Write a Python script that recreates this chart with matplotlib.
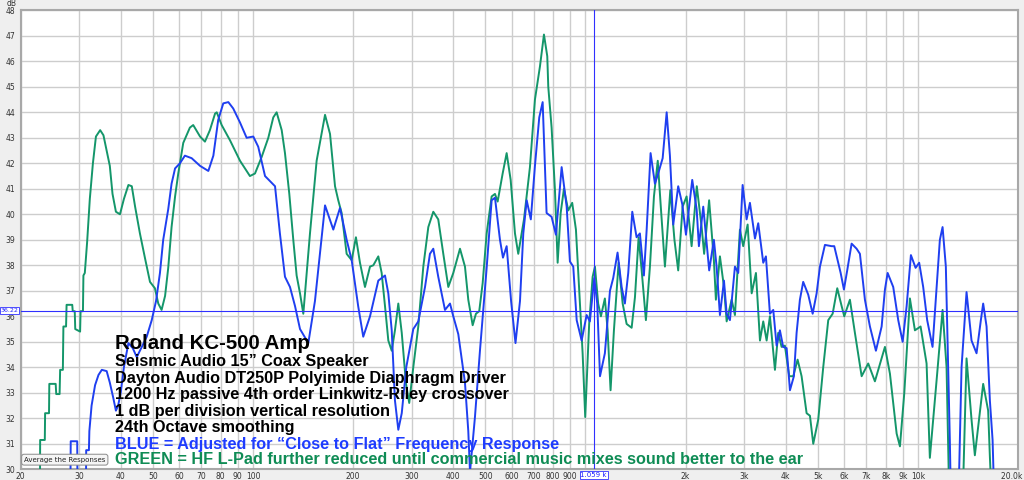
import matplotlib
matplotlib.use('Agg')
import matplotlib.pyplot as plt
from matplotlib.transforms import blended_transform_factory

# Datos (Hz, dB)
blue_hz = [20, 28.2, 28.3, 29.6, 29.7, 31.4, 31.5, 32.1, 32.2, 32.7, 33.5, 34.3, 35.1, 36.3, 37.1, 38.0,
           38.7, 39.3, 40.0, 40.9, 42.2, 43.5, 44.7, 46.3, 47.9, 49.6, 51.1, 52.5, 53.7, 55.6, 56.9, 58.3,
           60.3, 62.4, 65.4, 69.3, 73.4, 76.0, 78.6, 81.4, 84.3, 87.2, 91.4, 95.7, 100.2, 103.7, 108.7,
           112.5, 116.5, 120.5, 124.8, 129.2, 133.8, 138.5, 146.7, 153.6, 164.7, 174.4, 182.7, 191.3,
           198.1, 207.2, 214.6, 224.9, 238.2, 249.5, 255.3, 261.4, 267.3, 273.6, 280.2, 289.1, 303.5,
           314.2, 329.2, 340.6, 348.6, 360.8, 378, 391.4, 400.4, 414.5, 434.1, 444.2, 449.5, 465.2,
           481.6, 504.5, 522.2, 534.4, 553.2, 564.8, 579.4, 597.5, 616, 635.5, 650.2, 665.6, 685, 704.8,
           726.2, 743.5, 764, 791, 815, 848, 878, 898, 919, 941, 974, 1008, 1031, 1063, 1085, 1106, 1144,
           1185, 1212, 1249, 1285, 1314, 1345, 1383, 1425, 1458, 1499, 1528, 1570, 1618, 1655, 1707,
           1755, 1795, 1837, 1901, 1955, 2006, 2095, 2160, 2194, 2261, 2315, 2356, 2434, 2480, 2538,
           2610, 2659, 2720, 2816, 2881, 2970, 3053, 3124, 3235, 3309, 3426, 3490, 3588, 3672, 3758,
           3845, 3933, 4028, 4122, 4236, 4316, 4416, 4518, 4678, 4824, 4958, 5074, 5252, 5502, 5602,
           5696, 5856, 5990, 6128, 6318, 6540, 6692, 6928, 7172, 7476, 7778, 7958, 8108, 8428, 8726,
           8996, 9248, 9526, 9840, 10088, 10372, 10662, 11066, 11380, 11642, 11862, 12134, 12330,
           12474, 12600, 13200, 13528, 14004, 14496, 15008, 15464, 15714, 16088, 16460, 16772, 17040,
           20000]
blue_db = [28, 28, 31.1, 31.1, 28, 28, 30.75, 30.75, 31.5, 32.5, 33.3, 33.7, 33.9, 33.85, 33.4, 32.8,
           32.3, 32.5, 33.0, 34.0, 34.95, 34.75, 34.4, 34.8, 35.2, 35.85, 36.6, 37.7, 39.0, 40.2, 41.2, 41.8,
           42.0, 42.3, 42.2, 41.9, 41.7, 42.3, 43.7, 44.35, 44.4, 44.15, 43.6, 43.0, 43.05, 42.65, 41.5,
           41.3, 41.1, 39.25, 37.55, 37.15, 36.4, 35.5, 34.95, 36.6, 40.35, 39.4, 40.25, 39.0,
           38.2, 36.4, 35.2, 36.0, 37.4, 37.6, 36.9, 35.45, 32.7, 31.55, 32.2, 34.0, 35.5,
           35.8, 37.15, 38.45, 38.65, 37.55, 36.25, 36.5, 36.0, 35.3, 33.4, 31.5, 29.9, 32.05,
           34.65, 37.9, 40.55, 40.65, 39.0, 38.3, 38.75, 36.6, 34.95, 36.6, 39.25, 40.55, 39.8, 41.9,
           43.8, 44.4, 40.05, 39.9, 39.2, 41.85, 40.3, 38.15, 37.95, 35.85, 35.05, 36.05, 35.8, 37.5, 36.5, 33.65, 34.55,
           37.0, 37.5, 38.5, 37.15, 36.5, 37.7, 40.1, 39.1, 39.25, 37.6, 39.4, 42.4, 41.2, 41.6, 42.2,
           44.0, 42.3, 39.6, 41.1, 40.4, 39.2, 41.35, 40.2, 38.75, 40.3, 38.85, 37.8, 39.0, 37.95, 36.05,
           37.4, 36.1, 35.85, 37.95, 37.7, 41.15, 39.8, 40.45, 39.05, 39.65, 38.1, 38.35, 36.1, 36.25, 34.85,
           35.45, 34.8, 34.75, 33.1, 33.65, 35.35, 36.65, 37.35, 36.85, 36.1, 36.9, 37.95, 38.8, 38.75, 38.75,
           38.35, 37.7, 37.05, 37.8, 38.85, 38.65, 38.45, 36.65, 35.6, 34.65, 35.6, 37.05, 37.7, 37.15, 35.85,
           35.0, 36.4, 38.4, 37.9, 38.1, 37.15, 35.85, 34.8, 37.15, 39.0, 39.5, 37.95, 34.0,
           31.15, 28, 28, 34.0, 36.95, 35.05, 34.55, 35.85, 36.5, 35.6, 32.7, 31.15, 28,
           28]

green_hz = [20, 22.85, 22.9, 23.65, 23.7, 24.35, 24.4, 25.5, 25.6, 26.2, 26.3, 26.8, 26.9, 27.4, 27.5,
            28.6, 28.7, 29.1, 29.2, 30.2, 30.3, 30.8, 30.9, 31.2, 31.7, 32.3, 33.0, 33.7, 34.7, 35.5,
            36.3, 37.1, 37.8, 38.7, 39.8, 40.9, 42.2, 43.2, 44.2, 45.7, 47.3, 49.0, 50.7, 51.9, 53.1,
            54.4, 55.6, 56.9, 58.3, 59.6, 61.7, 64.6, 66.1, 69.3, 71.7, 74.2, 76.9, 77.8, 80.5, 85.3,
            91.4, 97.9, 101.4, 106.2, 111.2, 115.1, 117.8, 122, 124.8, 128.6, 132.2, 135.3, 138.5,
            141.7, 148.4, 155.4, 164.7, 170.5, 176.5, 180.5, 184.8, 191.3, 198.1, 204, 209.8, 217.2,
            224.9, 230.1, 238.2, 243.8, 249.5, 255.3, 261.4, 267.3, 273.6, 280.2, 288.6, 295.1, 303.5,
            314.2, 325.3, 336.8, 348.6, 360.8, 373.6, 386.8, 400.4, 419.4, 434.1, 444.2, 457.9, 468.4,
            479.2, 490.7, 504.5, 522.2, 534.4, 544.4, 563.6, 579.4, 595.7, 613.8, 627.9, 653.3, 680.8,
            704.8, 729.7, 750.2, 767.6, 773, 791, 809.6, 824.8, 842.2, 861.6, 887.6, 912.4, 936.2,
            957.8, 980.6, 998.4, 1026, 1051, 1068, 1092, 1113, 1144, 1166, 1190, 1218, 1258, 1294,
            1330, 1377, 1409, 1445, 1476, 1520, 1563, 1607, 1650, 1683, 1734, 1800, 1852, 1901, 1960,
            2015, 2086, 2162, 2236, 2275, 2355, 2434, 2468, 2538, 2610, 2659, 2752, 2816, 2915, 2982,
            3075, 3162, 3257, 3349, 3426, 3507, 3588, 3715, 3800, 3890, 3980, 4102, 4217, 4346, 4468,
            4626, 4734, 4844, 5014, 5190, 5374, 5540, 5720, 5896, 6004, 6244, 6464, 6772, 7088, 7424,
            7958, 8238, 8630, 8830, 9100, 9460, 9794, 10186, 10618, 10862, 11426, 11862, 12194, 12416,
            12500, 13500, 13650, 14004, 14496, 14834, 15714, 16266, 16460, 16772, 20000]
green_db = [28, 28, 31.15, 31.15, 32.2, 32.2, 33.35, 33.35, 32.95, 32.95, 33.9, 33.9, 35.6, 35.6, 36.45,
            36.45, 36.2, 36.2, 35.5, 35.4, 36.2, 36.2, 37.6, 37.7, 38.9, 40.6, 42.0, 43.05, 43.3, 43.1,
            42.5, 41.9, 40.8, 40.1, 40.0, 40.6, 41.15, 41.1, 40.3, 39.25, 38.3, 37.35, 37.1, 36.5, 36.25,
            36.8, 37.9, 39.5, 40.7, 41.6, 42.8, 43.4, 43.5, 43.05, 42.85, 43.3, 43.95, 44.0, 43.5, 42.9,
            42.1, 41.5, 41.6, 42.25, 43.0, 43.8, 44.0, 43.3, 42.4, 40.8, 39.0, 37.6, 36.9,
            36.1, 39.25, 42.1, 43.9, 43.15, 41.1, 40.55, 40.05, 38.45, 38.2, 39.1, 38.1, 37.15,
            37.95, 38.0, 38.35, 37.7, 36.4, 35.05, 34.65, 35.45, 36.5, 35.35, 33.35, 32.6, 34.0,
            35.6, 37.95, 39.5, 40.1, 39.8, 38.45, 37.15, 37.7, 38.65, 37.95, 36.65, 35.65, 36.1,
            36.2, 37.3, 39.25, 40.7, 40.8, 40.5, 41.6, 42.4, 41.35, 39.25, 38.45, 39.8, 41.85,
            44.5, 45.8, 47.05, 46.2, 45.0, 43.4, 40.95, 38.1, 40.05, 41.0, 40.15, 40.45, 39.4,
            37.05, 34.55, 32.05, 35.7, 37.55, 37.95, 36.5, 36.0, 36.7, 35.45, 33.1, 35.45, 38.1, 36.5,
            35.7, 35.55, 36.75, 39.1, 37.8, 35.85, 37.95, 40.7, 42.1, 40.4, 37.95, 40.95, 39.0, 37.8, 40.3,
            40.7, 38.75, 41.1, 39.5, 38.45, 40.55, 38.2, 36.65, 38.35, 37.15, 35.8, 36.65, 36.05, 39.4, 38.75,
            39.6, 36.9, 37.7, 35.05, 35.8, 35.05, 36.0, 33.9, 35.35, 34.8, 34.85, 33.65, 33.65, 34.3, 33.65,
            32.2, 32.1, 31.0, 31.95, 34.0, 35.85, 36.1, 37.1, 36.4, 36.0, 36.65, 35.35, 33.65, 34.15, 33.45,
            34.8, 33.75, 31.4, 30.9, 33.0, 36.7, 35.45, 35.6, 34.15, 30.45, 33.75, 36.25, 34.0, 29.0,
            28, 28, 29.0, 34.35, 31.95, 30.55, 33.35, 32.3, 30.5, 28, 28]

freq_ticks = [20, 30, 40, 50, 60, 70, 80, 90, 100, 200, 300, 400, 500, 600, 700, 800, 900, 1000,
              2000, 3000, 4000, 5000, 6000, 7000, 8000, 9000, 10000, 20000]
freq_labels = ['20', '30', '40', '50', '60', '70', '80', '90', '100', '200', '300', '400', '500',
               '600', '700', '800', '900', '', '2k', '3k', '4k', '5k', '6k', '7k', '8k', '9k', '10k',
               '20.0k Hz']
db_ticks = list(range(30, 49))
cursor_hz = 1059
cursor_db = 36.22

lineas = [
    ('Roland KC-500 Amp', 14.7, 'black'),
    ('Seismic Audio 15\u201d Coax Speaker', 11.7, 'black'),
    ('Dayton Audio DT250P Polyimide Diaphragm Driver', 11.7, 'black'),
    ('1200 Hz passive 4th order Linkwitz-Riley crossover', 11.7, 'black'),
    ('1 dB per division vertical resolution', 11.7, 'black'),
    ('24th Octave smoothing', 11.7, 'black'),
    ('BLUE = Adjusted for \u201cClose to Flat\u201d Frequency Response', 11.7, '#1e3cff'),
    ('GREEN = HF L-Pad further reduced until commercial music mixes sound better to the ear', 11.7, '#0f8c55'),
]

azul = '#1f3ff0'
verde = '#14966a'

fig = plt.figure(figsize=(10.24, 4.8), dpi=100, facecolor='#efefef')
ax = fig.add_axes([20.6 / 1024, 10.7 / 480, 997.4 / 1024, 459 / 480])
ax.set_facecolor('white')

ax.plot(green_hz, green_db, color=verde, lw=1.4, zorder=3)
ax.plot(blue_hz, blue_db, color=azul, lw=1.4, zorder=4)

ax.axhline(cursor_db, color='#3030ff', lw=0.8, zorder=5)
ax.axvline(cursor_hz, color='#3030ff', lw=0.8, zorder=5)

ax.set_xscale('log')
ax.set_xlim(20, 20000)
ax.set_ylim(30, 48)
ax.set_xticks(freq_ticks)
ax.set_xticklabels(freq_labels)
ax.minorticks_off()
ax.set_yticks(db_ticks)
ax.set_yticklabels([str(v) for v in db_ticks])
ax.tick_params(axis='both', length=0, labelsize=5.5, colors='#333333')
ax.tick_params(axis='x', pad=2)
ax.tick_params(axis='y', pad=4)
ax.grid(True, color='#cdcdcd', lw=1.0, zorder=0)
ax.set_axisbelow(True)
for s in ax.spines.values():
    s.set_color('#a8a8a8')
    s.set_linewidth(1.5)

# etiquetas de los cursores
tr_y = blended_transform_factory(ax.transAxes, ax.transData)
ax.text(-0.002, cursor_db, '36.22', transform=tr_y, ha='right', va='center', fontsize=4.5,
        color='#2020ff', bbox=dict(fc='white', ec='#3030ff', lw=0.6, pad=0.6), clip_on=False)
tr_x = blended_transform_factory(ax.transData, ax.transAxes)
ax.text(cursor_hz, -0.006, '1.059 k', transform=tr_x, ha='center', va='top', fontsize=5,
        color='#2020ff', bbox=dict(fc='white', ec='#3030ff', lw=0.6, pad=0.6), clip_on=False)

fig.text(12 / 1024, 1 - 4 / 480, 'dB', fontsize=5.5, color='#333333', ha='center', va='center')

ax.text(0.0035, 0.021, 'Average the Responses', transform=ax.transAxes, fontsize=5, ha='left',
        va='center', color='#222222', zorder=8,
        bbox=dict(boxstyle='round,pad=0.35', fc='#f5f5f5', ec='#8a8a8a', lw=0.7))

# texto descriptivo
bases = [349.3, 366, 382.7, 399, 415.7, 431.7, 449, 464.3]
for (txt, size, col), yb in zip(lineas, bases):
    fig.text(115 / 1024, 1 - yb / 480, txt, fontsize=size, color=col, fontweight='bold',
             family=['Liberation Sans', 'DejaVu Sans'], ha='left', va='baseline', zorder=10)

fig.savefig('out.png', dpi=100, facecolor=fig.get_facecolor())
